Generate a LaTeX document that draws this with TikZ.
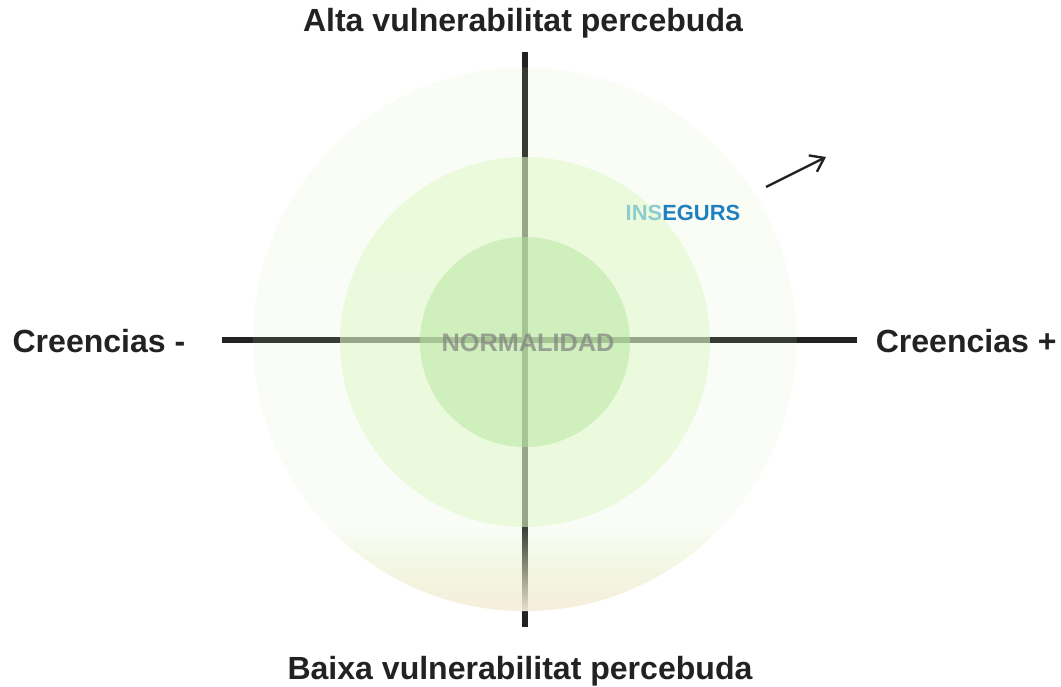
\documentclass[tikz,border=0pt]{standalone}
\usepackage{fontspec}
\setmainfont{Liberation Sans}
\usetikzlibrary{arrows.meta,fadings}

\definecolor{axisgray}{RGB}{34,34,34}
\definecolor{outergreen}{RGB}{217,240,186}
\definecolor{outerbeige}{RGB}{247,237,219}
\definecolor{midgreen}{RGB}{224,248,200}
\definecolor{innergreen}{RGB}{180,228,160}
\definecolor{inslight}{RGB}{140,205,205}
\definecolor{insblue}{RGB}{30,128,192}

% outer ring: light green on top, beige at the bottom, fading in towards the bottom
% (the path box takes the band 25bp--75bp of the shading)
\pgfdeclareverticalshading{outercol}{100bp}{color(0bp)=(outerbeige); color(25bp)=(outerbeige); color(33bp)=(outergreen); color(100bp)=(outergreen)}
\pgfdeclareverticalshading{outerfadeshade}{100bp}{color(0bp)=(pgftransparent!5); color(25bp)=(pgftransparent!5); color(33bp)=(pgftransparent!88); color(100bp)=(pgftransparent!87)}
\pgfdeclarefading{outerfade}{\pgfuseshading{outerfadeshade}}

\begin{document}
\begin{tikzpicture}[
    axis/.style={draw=axisgray, line width=4.3pt},
    axislabel/.style={font=\bfseries\fontsize{22.8}{26}\selectfont, text=axisgray, anchor=base},
    zonelabel/.style={font=\bfseries\fontsize{15.6}{18}\selectfont},
    normlabel/.style={font=\bfseries\fontsize{18}{21}\selectfont, text=black!50, text opacity=0.7}
]
\useasboundingbox (-13.125,-8.675) rectangle (13.4,8.5);

% Axes
\draw[axis] (0,7.2) -- (0,-7.175);
\draw[axis] (-7.575,0) -- (8.3,0);

% Circles
\shade[shading=outercol, path fading=outerfade] (0,0.025) circle (6.8);
\fill[midgreen, fill opacity=0.57] (0,-0.05) circle (4.625);
\fill[innergreen, fill opacity=0.5] (0,-0.05) circle (2.625);

% Axis labels
\node[axislabel] (alta) at (-0.05,7.7) {Alta vulnerabilitat percebuda};
\node[axislabel] (baixa) at (-0.125,-8.475) {Baixa vulnerabilitat percebuda};
\node[axislabel] (cneg) at (-10.65,-0.3) {Creencias -};
\node[axislabel] (cpos) at (11.03,-0.3) {Creencias +};

% Zones
\node[zonelabel] (insegurs) at (3.95,3.175) {\textcolor{inslight}{INS}\textcolor{insblue}{EGURS}};
\node[normlabel] (normal) at (0.075,-0.075) {NORMALIDAD};

% Arrow
\coordinate (arrowtail) at (6.025,3.825);
\coordinate (arrowtip) at (7.525,4.575);
\draw[axisgray, line width=1.7pt, -{Straight Barb[length=9pt,width=13pt]}] (arrowtail) -- (arrowtip);

\end{tikzpicture}
\end{document}
